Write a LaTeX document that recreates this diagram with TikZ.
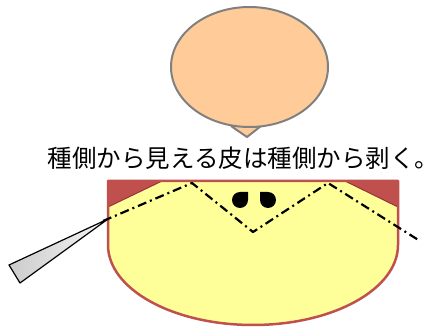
\documentclass[tikz,border=0pt]{standalone}
\usepackage{fontspec}
\newfontfamily\jpfont{Noto Sans CJK JP}
\usetikzlibrary{calc}

\definecolor{peach}{RGB}{255,204,153}
\definecolor{flesh}{RGB}{255,255,153}
\definecolor{skin}{RGB}{192,80,77}
\definecolor{skindark}{RGB}{150,54,52}

\begin{document}
\begin{tikzpicture}[x=1pt, y=1pt, line join=round]

    \useasboundingbox (0,0) rectangle (445,327);

    % 1. Speech bubble: tail first, then the balloon on top
    \coordinate (B) at (249.5,260);
    \draw[gray, line width=2pt, fill=peach] (231,201) -- (247,190) -- (261,201);
    \draw[gray, line width=2pt, fill=peach] (B) ellipse (78.5 and 60);

    % 2. The caption under the bubble
    \node[font=\jpfont\fontsize{24.5}{28}\selectfont, inner sep=0pt] (caption) at (243.5,169)
        {種側から見える皮は種側から剥く。};

    % 3. Fruit section: flat top, straight sides, round bottom
    \coordinate (TL) at (108,146);
    \coordinate (TR) at (398,146);
    \fill[flesh] (TL) -- (108,82) arc[start angle=180, end angle=360, x radius=145, y radius=80]
        -- (TR) -- cycle;

    % 4. Skin left on the two top corners
    \draw[skindark, fill=skin, line width=1pt] (TL) -- (162,146) -- (108,120) -- cycle;
    \draw[skindark, fill=skin, line width=1pt] (345,146) -- (TR) -- (398,120) -- cycle;

    % outline of the section
    \draw[skin, line width=2.5pt] (TL) -- (108,82) arc[start angle=180, end angle=360, x radius=145, y radius=80]
        -- (TR) -- cycle;

    % 5. Seeds
    \fill (240,135) arc[start angle=90, end angle=360, radius=8] -- (248,135) -- cycle;
    \fill (260,127) arc[start angle=180, end angle=450, radius=8] -- (260,135) -- cycle;

    % 6. Cutting line
    \coordinate (C1) at (103,106);
    \coordinate (C2) at (192,144);
    \coordinate (C3) at (253,95);
    \coordinate (C4) at (328,144);
    \coordinate (C5) at (420,86);
    \draw[line width=2.2pt, dash pattern=on 9pt off 4pt on 2pt off 4pt]
        (C1) -- (C2) -- (C3) -- (C4) -- (C5);

    % 7. Knife blade
    \coordinate (K) at (108,108);
    \draw[line width=1.2pt, left color=gray!40, right color=gray!8]
        (K) -- (9,62) -- (20,44) -- cycle;

\end{tikzpicture}
\end{document}
